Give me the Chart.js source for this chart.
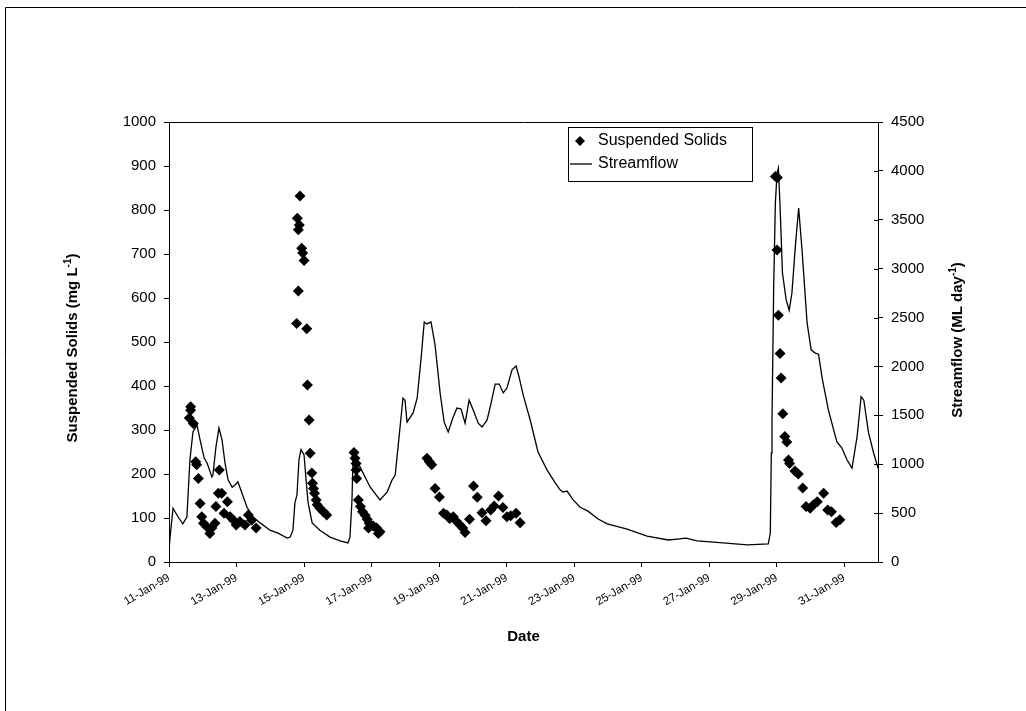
<!DOCTYPE html>
<html>
<head>
<meta charset="utf-8">
<script src="https://cdn.jsdelivr.net/npm/chart.js@4.4.0/dist/chart.umd.min.js"></script>
<style>
  html, body { margin: 0; padding: 0; background: #fff; }
  #wrap { width: 1026px; height: 711px; position: relative; }
</style>
</head>
<body>
<div id="wrap"><canvas id="chart"></canvas></div>
<script>
// days after 11-Jan-99 00:00
const flowDays = [0, 0.03, 0.12, 0.27, 0.41, 0.53, 0.62, 0.71, 0.83, 0.92, 1.04, 1.13, 1.27, 1.30, 1.39, 1.48, 1.57, 1.66, 1.75, 1.87, 1.96, 2.04, 2.16, 2.31, 2.49, 2.70, 2.99, 3.23, 3.50, 3.59, 3.67, 3.73, 3.79, 3.85, 3.91, 4.00, 4.06, 4.12, 4.24, 4.47, 4.77, 5.07, 5.30, 5.36, 5.42, 5.45, 5.51, 5.66, 5.96, 6.25, 6.46, 6.61, 6.70, 6.79, 6.93, 6.99, 7.05, 7.23, 7.35, 7.47, 7.56, 7.64, 7.76, 7.88, 8.03, 8.15, 8.27, 8.41, 8.53, 8.65, 8.77, 8.89, 9.01, 9.16, 9.27, 9.42, 9.54, 9.66, 9.78, 9.90, 10.01, 10.16, 10.28, 10.37, 10.49, 10.70, 10.93, 11.20, 11.44, 11.59, 11.67, 11.79, 11.97, 12.18, 12.41, 12.71, 12.98, 13.57, 14.16, 14.79, 15.05, 15.32, 15.64, 16.41, 17.13, 17.75, 17.81, 17.84, 17.86, 17.91, 17.96, 18.01, 18.05, 18.10, 18.17, 18.28, 18.37, 18.45, 18.55, 18.65, 18.75, 18.90, 19.02, 19.14, 19.24, 19.34, 19.53, 19.78, 19.93, 20.08, 20.23, 20.38, 20.50, 20.58, 20.72, 20.87, 21.0];
const flowValues = [110, 250, 550, 460, 390, 460, 1045, 1330, 1400, 1250, 1065, 1010, 870, 890, 1175, 1370, 1250, 1010, 840, 765, 790, 820, 705, 560, 460, 400, 325, 295, 245, 255, 325, 605, 685, 1045, 1150, 1095, 840, 605, 400, 325, 255, 215, 195, 255, 635, 1045, 1095, 970, 765, 635, 715, 840, 890, 1195, 1675, 1655, 1430, 1525, 1675, 2095, 2455, 2435, 2455, 2220, 1730, 1430, 1330, 1475, 1575, 1565, 1420, 1655, 1555, 1420, 1380, 1450, 1625, 1820, 1820, 1730, 1780, 1965, 2005, 1890, 1710, 1450, 1125, 940, 810, 735, 715, 725, 635, 560, 520, 440, 390, 335, 265, 225, 235, 245, 215, 195, 175, 185, 295, 1115, 1450, 2810, 3670, 3980, 4030, 3630, 2955, 2680, 2575, 2750, 3220, 3620, 3190, 2445, 2170, 2135, 2125, 1890, 1555, 1230, 1165, 1045, 960, 1280, 1690, 1655, 1320, 1115, 960];

const ssDays = [0.64, 0.64, 0.60, 0.72, 0.79, 0.82, 0.87, 0.92, 0.97, 1.02, 1.12, 1.21, 1.27, 1.36, 1.39, 1.46, 1.49, 1.56, 1.63, 1.73, 1.81, 1.91, 1.99, 2.10, 2.25, 2.35, 2.45, 2.58,
  3.88, 3.80, 3.86, 3.83, 3.93, 3.96, 4.00, 3.83, 3.78, 4.08, 4.10, 4.15, 4.18, 4.23, 4.25, 4.28, 4.31, 4.36, 4.39, 4.47, 4.57, 4.67,
  5.48, 5.51, 5.54, 5.54, 5.56, 5.61, 5.67, 5.73, 5.81, 5.87, 5.93, 5.91, 6.05, 6.15, 6.25, 6.20,
  7.64, 7.71, 7.78, 7.88, 8.01, 8.13, 8.23, 8.31, 8.42, 8.52, 8.62, 8.70, 8.77, 8.90, 9.02, 9.13, 9.27, 9.39, 9.53, 9.63, 9.76, 9.89, 10.01, 10.12, 10.28, 10.40,
  17.96, 18.02, 18.01, 18.05, 18.10, 18.13, 18.18, 18.24, 18.30, 18.35, 18.38, 18.54, 18.64, 18.77, 18.87, 18.99, 19.09, 19.20, 19.39, 19.51, 19.62, 19.76, 19.87];
const ssValues = [353, 345, 327, 315, 228, 221, 190, 133, 103, 88, 80, 65, 77, 88, 126, 156, 209, 156, 111, 137, 103, 95, 84, 92, 84, 107, 95, 77,
  832, 781, 766, 755, 713, 702, 685, 616, 542, 530, 402, 323, 247, 202, 179, 167, 156, 141, 130, 122, 114, 107,
  249, 236, 224, 209, 190, 141, 126, 114, 106, 97, 88, 77, 82, 77, 69, 65,
  236, 228, 221, 167, 148, 111, 107, 99, 103, 92, 84, 77, 67, 97, 173, 147, 112, 94, 118, 127, 150, 124, 103, 105, 111, 89,
  876, 874, 709, 561, 474, 418, 337, 285, 273, 232, 224, 207, 200, 168, 126, 122, 130, 137, 156, 118, 114, 90, 96];

const tickDays = [0, 2, 4, 6, 8, 10, 12, 14, 16, 18, 20];
const monthNames = ["Jan", "Feb", "Mar", "Apr", "May", "Jun", "Jul", "Aug", "Sep", "Oct", "Nov", "Dec"];

const leftTitle = [{ text: "Suspended Solids (mg L" }, { text: "-1", sup: true }, { text: ")" }];
const rightTitle = [{ text: "Streamflow (ML day" }, { text: "-1", sup: true }, { text: ")" }];

const FONT = "'Liberation Sans', Arial, sans-serif";
const titleFont = "bold 15px " + FONT;
const supFont = "bold 10px " + FONT;

function dayLabel(d) {
    const dt = new Date(1999, 0, 11 + d);
    return dt.getDate() + "-" + monthNames[dt.getMonth()] + "-99";
}

function drawVTitle(ctx, parts, x, y) {
    ctx.save();
    ctx.translate(x, y);
    ctx.rotate(-Math.PI / 2);
    let total = 0;
    parts.forEach(p => { ctx.font = p.sup ? supFont : titleFont; total += ctx.measureText(p.text).width; });
    let cx = -total / 2;
    ctx.textBaseline = "middle";
    ctx.textAlign = "left";
    ctx.fillStyle = "#000";
    parts.forEach(p => {
        ctx.font = p.sup ? supFont : titleFont;
        ctx.fillText(p.text, cx, p.sup ? -5 : 0);
        cx += ctx.measureText(p.text).width;
    });
    ctx.restore();
}

function diamond(ctx, x, y, r) {
    ctx.beginPath();
    ctx.moveTo(x, y - r);
    ctx.lineTo(x + r, y);
    ctx.lineTo(x, y + r);
    ctx.lineTo(x - r, y);
    ctx.closePath();
    ctx.fill();
}

const decor = {
    id: "decor",
    beforeDraw(chart) {
        const ctx = chart.ctx;
        ctx.save();
        ctx.fillStyle = "#fff";
        ctx.fillRect(0, 0, chart.width, chart.height);
        ctx.restore();
    },
    afterDraw(chart) {
        const ctx = chart.ctx;
        const a = chart.chartArea;
        ctx.save();
        ctx.strokeStyle = "#000";
        ctx.lineWidth = 1;
        // outer frame (only left and top visible)
        ctx.beginPath();
        ctx.moveTo(5.5, chart.height);
        ctx.lineTo(5.5, 7.5);
        ctx.lineTo(chart.width, 7.5);
        ctx.stroke();
        // top of plot area
        ctx.beginPath();
        ctx.moveTo(a.left, Math.round(a.top) + 0.5);
        ctx.lineTo(a.right, Math.round(a.top) + 0.5);
        ctx.stroke();
        // right axis ticks cross the axis line
        const r = chart.scales.y2;
        ctx.beginPath();
        r.ticks.forEach(t => {
            const py = Math.round(r.getPixelForValue(t.value)) + 0.5;
            ctx.moveTo(a.right - 4, py);
            ctx.lineTo(a.right, py);
        });
        ctx.stroke();

        const midY = (a.top + a.bottom) / 2;
        drawVTitle(ctx, leftTitle, 73, midY + 6);
        drawVTitle(ctx, rightTitle, 958, midY - 2);

        // legend box
        ctx.strokeRect(568.5, 127.5, 184, 54);
        ctx.fillStyle = "#000";
        ctx.font = "16px " + FONT;
        ctx.textBaseline = "middle";
        ctx.textAlign = "left";
        diamond(ctx, 580, 141, 5);
        ctx.fillText(chart.data.datasets[0].label, 598, 141);
        ctx.beginPath();
        ctx.lineWidth = 1.3;
        ctx.moveTo(570, 164);
        ctx.lineTo(592, 164);
        ctx.stroke();
        ctx.fillText(chart.data.datasets[1].label, 598, 164);
        ctx.restore();
    }
};

const axisGrid = { drawOnChartArea: false, drawTicks: true, tickLength: 5, color: "#000" };
const axisBorder = { display: true, color: "#000", width: 1 };

new Chart(document.getElementById("chart"), {
    type: "scatter",
    data: {
        datasets: [{
            label: "Suspended Solids",
            data: ssDays.map((d, i) => ({ x: d, y: ssValues[i] })),
            yAxisID: "y",
            pointStyle: "rectRot",
            pointRadius: 5.5,
            pointBorderWidth: 0,
            pointBackgroundColor: "#000",
            pointBorderColor: "#000"
        }, {
            label: "Streamflow",
            data: flowDays.map((d, i) => ({ x: d, y: flowValues[i] })),
            yAxisID: "y2",
            showLine: true,
            fill: false,
            borderColor: "#000",
            borderWidth: 1.3,
            pointRadius: 0,
            tension: 0
        }]
    },
    options: {
        responsive: true,
        maintainAspectRatio: false,
        animation: false,
        layout: { padding: { left: 0, right: 0, top: 122, bottom: 0 } },
        plugins: { legend: { display: false }, tooltip: { enabled: false } },
        scales: {
            x: {
                type: "linear",
                position: "bottom",
                min: 0,
                max: 21,
                afterBuildTicks: axis => { axis.ticks = tickDays.map(v => ({ value: v })); },
                afterFit: axis => { axis.height = 149; },
                ticks: {
                    autoSkip: false,
                    minRotation: 30,
                    maxRotation: 30,
                    padding: 4,
                    color: "#000",
                    font: { family: FONT, size: 11.5 },
                    callback: v => dayLabel(v)
                },
                grid: axisGrid,
                border: axisBorder,
                title: {
                    display: true,
                    text: "Date",
                    color: "#000",
                    font: { family: FONT, size: 15, weight: "bold" },
                    padding: { top: 0, bottom: 65 }
                }
            },
            y: {
                position: "left",
                min: 0,
                max: 1000,
                afterFit: axis => { axis.width = 169; },
                ticks: { stepSize: 100, padding: 8, color: "#000", font: { family: FONT, size: 15 }, callback: v => String(v) },
                grid: axisGrid,
                border: axisBorder
            },
            y2: {
                position: "right",
                min: 0,
                max: 4500,
                afterFit: axis => { axis.width = 148; },
                ticks: { stepSize: 500, padding: 8, color: "#000", font: { family: FONT, size: 15 }, callback: v => String(v) },
                grid: axisGrid,
                border: axisBorder
            }
        }
    },
    plugins: [decor]
});
</script>
</body>
</html>
